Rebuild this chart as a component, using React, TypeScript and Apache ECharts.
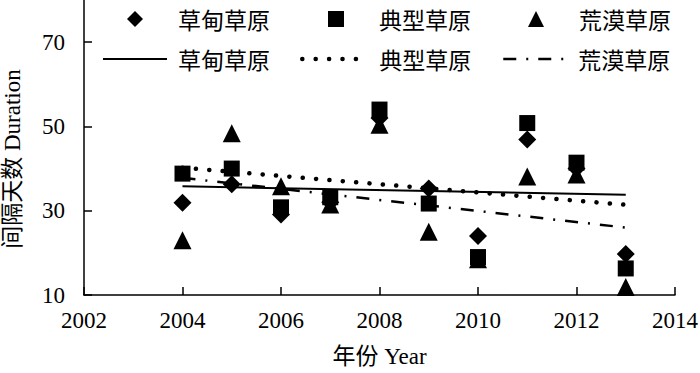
import React, { useEffect, useRef } from "react";
import * as echarts from "echarts";

const years = [2004, 2005, 2006, 2007, 2008, 2009, 2010, 2011, 2012, 2013];
const meadow = [31.9, 36.3, 29.1, 32, 52, 35.3, 24, 46.9, 40, 19.7];
const typical = [38.8, 40, 30.8, 33.2, 54, 31.7, 19, 50.8, 41.4, 16.3];
const desert = [23, 48.4, 35.8, 31.5, 50.4, 25, 18.5, 38.1, 38.6, 11.9];

const trendYears = [2004, 2013];
const meadowTrend = [35.8, 33.8];
const typicalTrend = [40.2, 31.4];
const desertTrend = [37.8, 26.0];

const seriesNames = ["草甸草原", "典型草原", "荒漠草原"];
const trendSuffix = "趋势线";
const xTicks = [2002, 2004, 2006, 2008, 2010, 2012, 2014];
const yTicks = [10, 30, 50, 70];

const SERIF = "'Liberation Serif', 'Times New Roman', 'Noto Sans CJK SC', serif";
const CJK = "'Noto Sans CJK SC', 'Liberation Serif', serif";

export default function App() {
  const ref = useRef<HTMLDivElement>(null);
  useEffect(() => {
    if (!ref.current) return;
    const chart = echarts.init(ref.current, undefined, { renderer: "svg" });
    const pair = (xs: number[], ys: number[]) => xs.map((x, i) => [x, ys[i]]);
    const black = "#000";
    const legendText = { fontFamily: CJK, fontSize: 23, color: black, lineHeight: 24 };
    const rowLeft1 = [127, 328, 528];
    const rowLeft2 = [102, 300, 502];
    const lineStyles: any[] = [
      { type: "solid", width: 2 },
      { type: [0.1, 13.3], width: 4.5, cap: "round" },
      { type: [13, 10, 2, 10], width: 2.5 },
    ];
    const legends: any[] = [];
    seriesNames.forEach((n, i) => {
      legends.push({
        data: [n],
        left: rowLeft1[i],
        top: 7,
        padding: 0,
        itemWidth: 16,
        itemHeight: 16,
        itemStyle: { color: black, opacity: 1 },
        textStyle: { ...legendText, padding: [0, 0, 0, 30] },
        selectedMode: false,
      });
      legends.push({
        data: [n + trendSuffix],
        left: rowLeft2[i],
        top: 47,
        padding: 0,
        itemWidth: i === 1 ? 56 : 64,
        itemHeight: 14,
        itemStyle: { opacity: 0 },
        lineStyle: { color: black, opacity: 1, ...lineStyles[i] },
        formatter: (name: string) => name.replace(trendSuffix, ""),
        textStyle: { ...legendText, padding: [0, 0, 0, i === 1 ? 16 : 6] },
        selectedMode: false,
      });
    });
    const symbols = ["diamond", "rect", "triangle"];
    const sizes = [18, 16, 18];
    const data = [meadow, typical, desert];
    const trends = [meadowTrend, typicalTrend, desertTrend];
    const series: any[] = [];
    seriesNames.forEach((n, i) => {
      series.push({
        name: n + trendSuffix,
        type: "line",
        data: pair(trendYears, trends[i]),
        symbol: "none",
        showSymbol: false,
        lineStyle: { color: black, opacity: 1, ...lineStyles[i] },
        itemStyle: { color: black },
        z: 2,
      });
    });
    seriesNames.forEach((n, i) => {
      series.push({
        name: n,
        type: "scatter",
        data: pair(years, data[i]),
        symbol: symbols[i],
        symbolSize: sizes[i],
        itemStyle: { color: black, opacity: 1 },
        z: 3 + i,
      });
    });
    chart.setOption({
      animation: false,
      backgroundColor: "#fff",
      grid: { left: 84, right: 25, top: 0, bottom: 78, containLabel: false, outerBoundsMode: "none" },
      legend: legends,
      xAxis: {
        type: "value",
        min: 2002,
        max: 2014,
        interval: 2,
        name: "年份 Year",
        nameLocation: "middle",
        nameGap: 50,
        nameTextStyle: { fontFamily: SERIF, fontSize: 23, color: black },
        axisLine: { show: true, lineStyle: { color: black, width: 1.5 } },
        axisTick: { show: true, inside: true, length: 8, lineStyle: { color: black, width: 1.5 } },
        axisLabel: {
          margin: 14,
          fontFamily: SERIF,
          fontSize: 23,
          color: black,
          customValues: xTicks,
          formatter: (v: number) => String(v),
        },
        splitLine: { show: false },
      },
      yAxis: {
        type: "value",
        min: 10,
        max: 80,
        interval: 20,
        name: "间隔天数 Duration",
        nameLocation: "middle",
        nameGap: 60,
        nameTextStyle: { fontFamily: SERIF, fontSize: 23, color: black, padding: [0, 23, 0, 0] },
        axisLine: { show: true, lineStyle: { color: black, width: 1.5 } },
        axisTick: { show: true, inside: true, length: 8, customValues: yTicks, lineStyle: { color: black, width: 1.5 } },
        axisLabel: {
          margin: 19,
          fontFamily: SERIF,
          fontSize: 23,
          color: black,
          customValues: yTicks,
          formatter: (v: number) => String(v),
        },
        splitLine: { show: false },
      },
      series,
    });
    return () => chart.dispose();
  }, []);
  return (
    <div
      ref={ref}
      style={{ position: "absolute", left: 0, top: 0, width: 700, height: 373, background: "#fff" }}
    />
  );
}
